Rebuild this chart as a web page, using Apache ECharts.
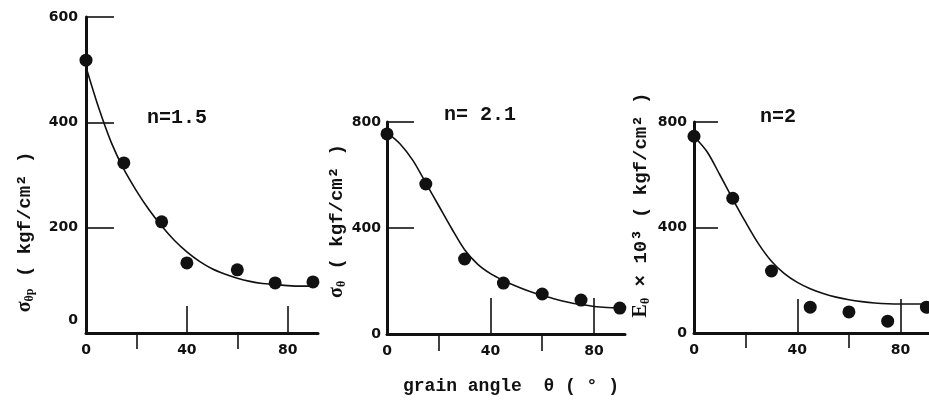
<!DOCTYPE html>
<html>
<head>
<meta charset="utf-8">
<script src="https://cdn.jsdelivr.net/npm/echarts@6/dist/echarts.min.js"></script>
<style>
  html, body { margin: 0; padding: 0; background: #fff; }
  #chart { width: 929px; height: 403px; }
</style>
</head>
<body>
<div id="chart"></div>
<script>
// Grain-angle dependence of strength / modulus (three panels)

// shared tick labels
const xTickLabels = [0, 40, 80];
const xLongTicks = [40, 80];
const xShortTicks = [20, 60];

// angles at which the fitted curves are sampled
const curveAngles = [0, 5, 10, 15, 20, 25, 30, 35, 40, 45, 50, 55, 60, 65, 70, 75, 80, 85, 90];

// panel 1 : n = 1.5
const ptAngles1 = [0, 15, 30, 40, 60, 75, 90];
const ptVals1 = [518, 323, 211, 133, 120, 95, 97];
const curveVals1 = [505, 428, 362, 311, 270, 234, 203, 176, 154, 136, 122, 112, 104, 98, 94, 92, 90, 89, 89];
const yTicks1 = [0, 200, 400, 600];

// panel 2 : n = 2.1
const ptAngles2 = [0, 15, 30, 45, 60, 75, 90];
const ptVals2 = [755, 566, 283, 192, 151, 128, 98];
const curveVals2 = [760, 718, 655, 570, 484, 398, 318, 264, 228, 202, 180, 161, 145, 132, 120, 111, 104, 100, 98];
const yTicks2 = [0, 400, 800];

// panel 3 : n = 2
const ptAngles3 = [0, 15, 30, 45, 60, 75, 90];
const ptVals3 = [746, 511, 235, 98, 80, 45, 98];
const curveVals3 = [745, 688, 600, 508, 420, 338, 272, 225, 192, 168, 150, 136, 126, 119, 114, 111, 110, 110, 110];
const yTicks3 = [0, 400, 800];

const panelNotes = ['n=1.5', 'n= 2.1', 'n=2'];

const INK = '#111';
const tickFont = { color: INK, fontFamily: 'DejaVu Sans', fontWeight: 'bold', fontSize: 14 };

const panels = [
  { grid: { left: 86, top: 17, width: 232, height: 316 }, xMax: 92, yMax: 600, yTicks: yTicks1,
    longLen: 27, shortLen: 16, yLen: 28, yMargin: 8,
    pa: ptAngles1, pv: ptVals1, cv: curveVals1, raiseZero: true },
  { grid: { left: 387, top: 122, width: 238, height: 212 }, xMax: 92, yMax: 800, yTicks: yTicks2,
    longLen: 36, shortLen: 17, yLen: 27, yMargin: 6,
    pa: ptAngles2, pv: ptVals2, cv: curveVals2, raiseZero: false },
  { grid: { left: 694, top: 122, width: 235, height: 211 }, xMax: 91, yMax: 800, yTicks: yTicks3,
    longLen: 34, shortLen: 15, yLen: 24, yMargin: 7,
    pa: ptAngles3, pv: ptVals3, cv: curveVals3, raiseZero: false }
];

const grids = [], xAxes = [], yAxes = [], series = [];

panels.forEach((p, i) => {
  grids.push(Object.assign({ containLabel: false }, p.grid));

  // main x axis: line, long inner ticks and labels
  xAxes.push({
    gridIndex: i, type: 'value', min: 0, max: p.xMax,
    axisLine: { show: true, onZero: false, lineStyle: { color: INK, width: 3 } },
    axisTick: { show: true, inside: true, length: p.longLen, customValues: xLongTicks,
      lineStyle: { color: INK, width: 1.6 } },
    axisLabel: { show: true, customValues: xTickLabels, margin: 10, ...tickFont },
    splitLine: { show: false }
  });
  // helper x axis: short inner ticks only
  xAxes.push({
    gridIndex: i, type: 'value', min: 0, max: p.xMax,
    axisLine: { show: false },
    axisTick: { show: true, inside: true, length: p.shortLen, customValues: xShortTicks,
      lineStyle: { color: INK, width: 1.6 } },
    axisLabel: { show: false },
    splitLine: { show: false }
  });

  yAxes.push({
    gridIndex: i, type: 'value', min: 0, max: p.yMax,
    axisLine: { show: true, onZero: false, lineStyle: { color: INK, width: 3 } },
    axisTick: { show: true, inside: true, length: p.yLen,
      customValues: p.yTicks.filter(v => v > 0), lineStyle: { color: INK, width: 1.6 } },
    axisLabel: {
      show: true, customValues: p.yTicks, margin: p.yMargin, ...tickFont,
      formatter: p.raiseZero ? (v => (v === 0 ? '{z|0}' : String(v))) : (v => String(v)),
      rich: { z: { ...tickFont, padding: [0, 0, 26, 0] } }
    },
    splitLine: { show: false }
  });

  series.push({
    type: 'line', xAxisIndex: i * 2, yAxisIndex: i,
    data: curveAngles.map((a, k) => [a, p.cv[k]]),
    smooth: 0.3, showSymbol: false, symbol: 'none',
    lineStyle: { color: INK, width: 1.6 }, silent: true, z: 3
  });
  series.push({
    type: 'scatter', xAxisIndex: i * 2, yAxisIndex: i,
    data: p.pa.map((a, k) => [a, p.pv[k]]),
    symbol: 'circle', symbolSize: 13,
    itemStyle: { color: INK, opacity: 1 }, clip: false, z: 4
  });
});

const monoFont = 'Liberation Mono';
const noteStyle = { fill: INK, fontFamily: monoFont, fontWeight: 'bold', fontSize: 20,
  align: 'center', verticalAlign: 'middle' };

const richY = {
  m: { fontFamily: 'Liberation Serif', fontWeight: 'bold', fontSize: 20, color: INK },
  s: { fontFamily: 'Liberation Serif', fontWeight: 'bold', fontSize: 12, color: INK, padding: [10, 0, 0, 0] },
  u: { fontFamily: monoFont, fontWeight: 'bold', fontSize: 19, color: INK }
};

function yTitle(x, y, text) {
  return {
    type: 'text', x: x, y: y, rotation: Math.PI / 2,
    style: { text: text, rich: richY, align: 'center', verticalAlign: 'middle', fill: INK }
  };
}

const graphics = [
  yTitle(25, 232, '{m|σ}{s|θp}{u| ( kgf/cm² )}'),
  yTitle(337, 221, '{m|σ}{s|θ}{u| ( kgf/cm² )}'),
  yTitle(641, 205, '{m|E}{s|θ}{u| × 10³ ( kgf/cm² )}'),
  { type: 'text', x: 177, y: 118, style: Object.assign({ text: panelNotes[0] }, noteStyle) },
  { type: 'text', x: 480, y: 115, style: Object.assign({ text: panelNotes[1] }, noteStyle) },
  { type: 'text', x: 778, y: 117, style: Object.assign({ text: panelNotes[2] }, noteStyle) },
  { type: 'text', x: 511, y: 386,
    style: { text: 'grain angle  θ ( ° )', fill: INK, fontFamily: monoFont, fontWeight: 'bold',
      fontSize: 18, align: 'center', verticalAlign: 'middle' } }
];

const chart = echarts.init(document.getElementById('chart'), null, { renderer: 'canvas' });
chart.setOption({
  animation: false,
  backgroundColor: '#fff',
  grid: grids,
  xAxis: xAxes,
  yAxis: yAxes,
  series: series,
  graphic: graphics
});
</script>
</body>
</html>
